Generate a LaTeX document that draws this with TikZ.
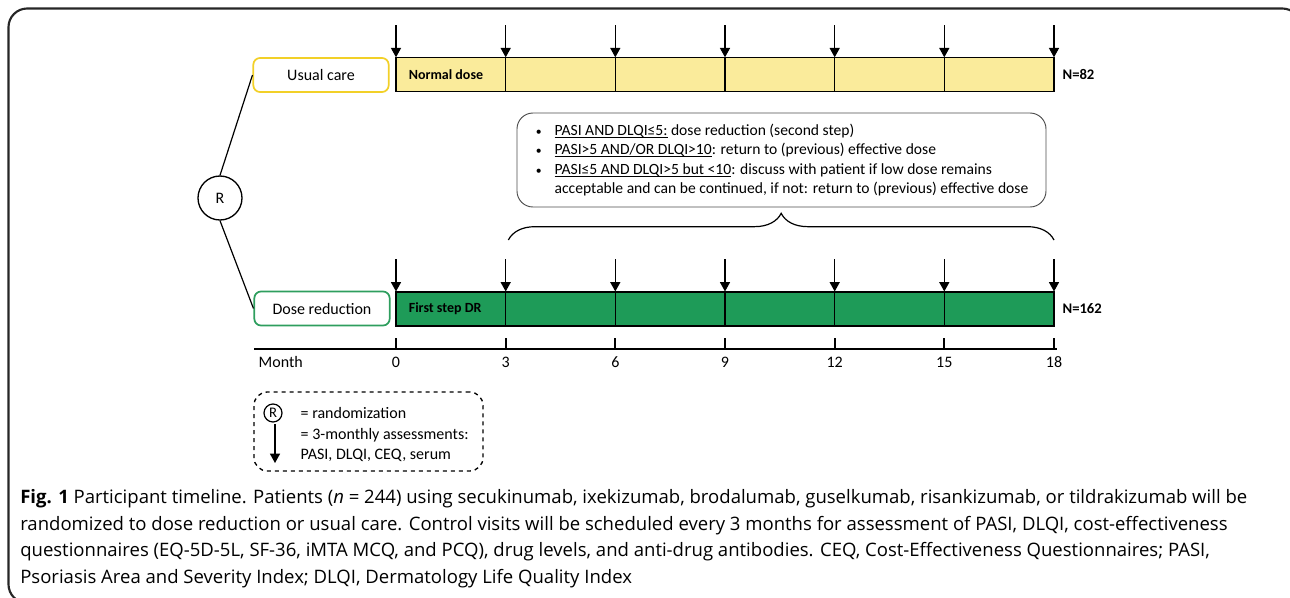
\documentclass[tikz,border=0pt]{standalone}
\usepackage{fontspec}
\setmainfont{Carlito}
\newfontfamily\captionfont{Open Sans}
\usetikzlibrary{positioning, arrows.meta, decorations.pathreplacing}

\definecolor{ucfill}{RGB}{250,235,155}
\definecolor{ucline}{RGB}{242,208,40}
\definecolor{drfill}{RGB}{30,155,88}
\definecolor{drline}{RGB}{46,158,94}
\newcommand{\crit}[1]{\underline{\smash{#1}}}
\newcommand{\bul}{\makebox[15pt][l]{\hspace{1pt}\scalebox{0.75}{\textbullet}}}

\begin{document}
\begin{tikzpicture}[
        x=0.75pt, y=-0.75pt,
        font=\fontsize{12}{14.5}\selectfont,
        arm/.style={draw, rounded corners=5pt, line width=1.3pt, minimum width=101.5pt, minimum height=25.5pt, align=center},
        bar/.style={draw, line width=0.8pt, minimum width=493.5pt, minimum height=25pt},
        barlabel/.style={font=\fontsize{10.5}{12}\selectfont\bfseries},
        rand/.style={draw, circle, line width=1pt, minimum size=33pt, inner sep=0pt},
        info/.style={draw=black!70, rounded corners=12pt, line width=0.7pt, minimum width=396.75pt, minimum height=70.5pt, align=left, font=\fontsize{11.7}{14.5}\selectfont},
        legend/.style={draw, dashed, rounded corners=10pt, line width=1pt, minimum width=171.75pt, minimum height=59.25pt},
        arrow/.style={-{Triangle[width=7.5pt,length=7pt]}, line width=1pt},
        branch/.style={line width=0.9pt},
        axis/.style={line width=1.5pt},
        brace/.style={decorate, decoration={brace, amplitude=20pt}, line width=0.9pt},
        frame/.style={draw=black!85, line width=1.6pt, rounded corners=14pt}
    ]
    \useasboundingbox (0,0) rectangle (1290,597);
    \draw[frame] (8.5,8.5) rectangle (1301,603);

    \node[arm, draw=ucline] (UC) at (321,75) {Usual care};
    \node[arm, draw=drline] (DR) at (322,308.5) {Dose reduction};
    \node[rand] (R) at (220,198) {R};
    \draw[branch] (R.north) -- (UC.west);
    \draw[branch] (R.south) -- (DR.west);

    \node[bar, fill=ucfill] (UBar) at (725,74.5) {};
    \node[bar, fill=drfill, minimum height=25.5pt] (DBar) at (725,309) {};
    \node[barlabel, anchor=west] (UDose) at ([xshift=6.5pt]UBar.west) {Normal dose};
    \node[barlabel, anchor=west] (DDose) at ([xshift=6.5pt]DBar.west) {First step DR};
    \node[barlabel, font=\fontsize{11}{12}\selectfont\bfseries, right=2.5pt of UBar] (UN) {N=82};
    \node[barlabel, font=\fontsize{11}{12}\selectfont\bfseries, right=2.5pt of DBar] (DN) {N=162};

    \coordinate (AxisL) at (254,349);
    \coordinate (AxisR) at (1057,349);
    \coordinate (TickTop) at (0,338);
    \coordinate (UTop) at (0,25);
    \coordinate (DTop) at (0,259);
    \coordinate (BraceY) at (0,240);
    \node[anchor=west] (Month) at (254,362) {Month};
    \node (M0) at (396,362) {0};
    \node (M3) at (505.7,362) {3};
    \node (M6) at (615.3,362) {6};
    \node (M9) at (725,362) {9};
    \node (M12) at (834.7,362) {12};
    \node (M15) at (944.3,362) {15};
    \node (M18) at (1054,362) {18};

    \draw[axis] (AxisL) -- (AxisR);
    \draw[axis] (M0 |- TickTop) -- (M0 |- AxisL);
    \draw[axis] (M3 |- TickTop) -- (M3 |- AxisL);
    \draw[axis] (M6 |- TickTop) -- (M6 |- AxisL);
    \draw[axis] (M9 |- TickTop) -- (M9 |- AxisL);
    \draw[axis] (M12 |- TickTop) -- (M12 |- AxisL);
    \draw[axis] (M15 |- TickTop) -- (M15 |- AxisL);
    \draw[axis] (M18 |- TickTop) -- (M18 |- AxisL);

    \draw[line width=0.8pt] (M3 |- UBar.north) -- (M3 |- UBar.south);
    \draw[line width=0.8pt] (M6 |- UBar.north) -- (M6 |- UBar.south);
    \draw[line width=0.8pt] (M9 |- UBar.north) -- (M9 |- UBar.south);
    \draw[line width=0.8pt] (M12 |- UBar.north) -- (M12 |- UBar.south);
    \draw[line width=0.8pt] (M15 |- UBar.north) -- (M15 |- UBar.south);
    \draw[line width=0.8pt] (M3 |- DBar.north) -- (M3 |- DBar.south);
    \draw[line width=0.8pt] (M6 |- DBar.north) -- (M6 |- DBar.south);
    \draw[line width=0.8pt] (M9 |- DBar.north) -- (M9 |- DBar.south);
    \draw[line width=0.8pt] (M12 |- DBar.north) -- (M12 |- DBar.south);
    \draw[line width=0.8pt] (M15 |- DBar.north) -- (M15 |- DBar.south);

    \draw[arrow] (M0 |- UTop) -- (M0 |- UBar.north);
    \draw[arrow] (M3 |- UTop) -- (M3 |- UBar.north);
    \draw[arrow] (M6 |- UTop) -- (M6 |- UBar.north);
    \draw[arrow] (M9 |- UTop) -- (M9 |- UBar.north);
    \draw[arrow] (M12 |- UTop) -- (M12 |- UBar.north);
    \draw[arrow] (M15 |- UTop) -- (M15 |- UBar.north);
    \draw[arrow] (M18 |- UTop) -- (M18 |- UBar.north);
    \draw[arrow] (M0 |- DTop) -- (M0 |- DBar.north);
    \draw[arrow] (M3 |- DTop) -- (M3 |- DBar.north);
    \draw[arrow] (M6 |- DTop) -- (M6 |- DBar.north);
    \draw[arrow] (M9 |- DTop) -- (M9 |- DBar.north);
    \draw[arrow] (M12 |- DTop) -- (M12 |- DBar.north);
    \draw[arrow] (M15 |- DTop) -- (M15 |- DBar.north);
    \draw[arrow] (M18 |- DTop) -- (M18 |- DBar.north);

    \node[info] (Rules) at (781.5,160) {%
        \bul\crit{PASI AND DLQI≤5:} dose reduction (second step)\\
        \bul\crit{PASI>5 AND/OR DLQI>10}: return to (previous) effective dose\\
        \bul\crit{PASI≤5 AND DLQI>5 but <10}: discuss with patient if low dose remains\\
        \hspace*{15pt}acceptable and can be continued, if not: return to (previous) effective dose};
    \draw[brace] ([xshift=2pt]M3 |- BraceY) -- (M18 |- BraceY);

    \node[legend] (Legend) at (368.5,431.5) {};
    \node[draw, circle, line width=0.9pt, minimum size=13.5pt, inner sep=0pt, font=\fontsize{11}{12}\selectfont] (LR) at (273,413) {R};
    \coordinate (LArrTop) at (275,424);
    \coordinate (LArrEnd) at (275,463);
    \draw[arrow] (LArrTop) -- (LArrEnd);
    \node[anchor=west] (LRand) at (296,413) {= randomization};
    \node[anchor=north west, align=left] (LVisit) at (296,424) {= 3-monthly assessments:\\PASI, DLQI, CEQ, serum};

    \node[anchor=north west, align=left, inner sep=0pt, font=\captionfont\fontsize{13.9}{20}\selectfont] (Caption) at (20,489) {%
        \textbf{Fig. 1} Participant timeline. Patients (\textit{n} = 244) using secukinumab, ixekizumab, brodalumab, guselkumab, risankizumab, or tildrakizumab will be\\
        randomized to dose reduction or usual care. Control visits will be scheduled every 3 months for assessment of PASI, DLQI, cost-effectiveness\\
        questionnaires (EQ-5D-5L, SF-36, iMTA MCQ, and PCQ), drug levels, and anti-drug antibodies. CEQ, Cost-Effectiveness Questionnaires; PASI,\\
        Psoriasis Area and Severity Index; DLQI, Dermatology Life Quality Index};
\end{tikzpicture}
\end{document}
